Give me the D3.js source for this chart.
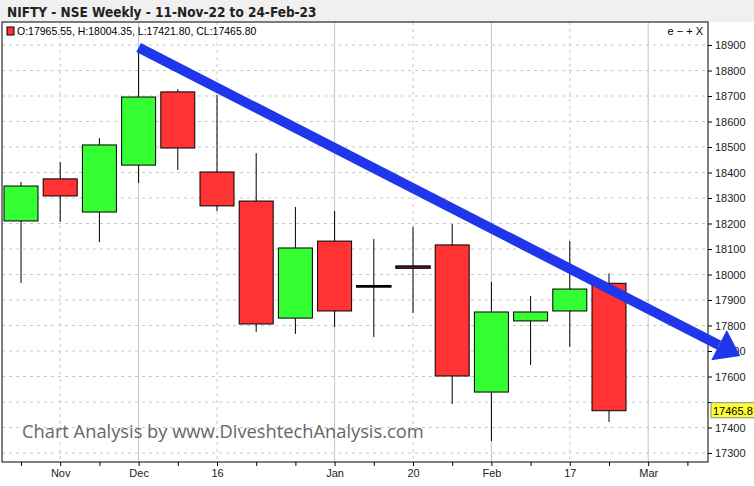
<!DOCTYPE html>
<html><head><meta charset="utf-8">
<script src="https://cdn.jsdelivr.net/npm/d3@7"></script>
<style>
body{margin:0;background:#f0f0f0;font-family:Tahoma,"DejaVu Sans",sans-serif}
</style></head><body>
<svg id="chart" width="754" height="486"></svg>
<script>
const weeks = ['11-Nov','18-Nov','25-Nov','2-Dec','9-Dec','16-Dec','23-Dec','30-Dec','6-Jan','13-Jan','20-Jan','27-Jan','3-Feb','10-Feb','17-Feb','24-Feb']
const open  = [18210,18375,18245,18429,18716,18402,18288,17829,18131,17956,18033,18116,17539,17818,17857,17965.55]
const high  = [18363,18441,18535,18870,18727,18704,18476,18265,18249,18139,18186,18198,17971,17916,18131,18004.35]
const low   = [17967,18206,18127,18359,18410,18249,17775,17767,17794,17755,17849,17492,17347,17645,17716,17421.80]
const close = [18347,18308,18508,18696,18496,18269,17806,18104,17857,17951,18025,17602,17853,17853,17943,17465.80]
const xLabels = [[1,'Nov',false],[3,'Dec',true],[5,'16',false],[8,'Jan',true],[10,'20',false],[12,'Feb',true],[14,'17',false],[16,'Mar',true]]
const yTicks = d3.range(17300, 18901, 100)
const trend = [[3,18890],[18.35,17680]]

const svg = d3.select('#chart')
const pLeft = 2, pRight = 708, pTop = 22, pBottom = 462

svg.append('text').attr('x', 7).attr('y', 17).attr('font-size', 13.5).attr('font-weight', 'bold')
  .attr('font-family', '"Liberation Sans Narrow","DejaVu Sans Condensed",sans-serif')
  .attr('fill', '#222').text('NIFTY - NSE Weekly - 11-Nov-22 to 24-Feb-23')
svg.append('rect').attr('x', 0).attr('y', pTop).attr('width', 754).attr('height', 464).attr('fill', '#fff')

const x = d3.scaleLinear().domain([0, 1]).range([21, 60.2])
const y = d3.scaleLinear().domain([17300, 18900]).range([453, 45])

// grid
svg.append('g').selectAll('line').data(yTicks).join('line')
  .attr('x1', pLeft).attr('x2', pRight).attr('y1', d => y(d)).attr('y2', d => y(d))
  .attr('stroke', '#c8c8c8').attr('stroke-dasharray', '3,4')
svg.append('g').selectAll('line').data(xLabels).join('line')
  .attr('x1', d => x(d[0])).attr('x2', d => x(d[0])).attr('y1', pTop).attr('y2', pBottom)
  .attr('stroke', d => d[2] ? '#c4c4c4' : '#c8c8c8').attr('stroke-dasharray', d => d[2] ? null : '3,4')

// y axis (17500 label sits under the last-price tag)
const yAxis = d3.axisRight(y).tickValues(yTicks).tickSize(4).tickFormat(d => d === 17500 ? '' : d3.format('d')(d))
svg.append('g').attr('transform', `translate(${pRight},0)`).call(yAxis)
  .call(g => g.select('.domain').remove())
  .call(g => g.selectAll('text').attr('font-size', 11).attr('font-family', 'Arial,sans-serif').attr('fill', '#222'))

// x axis
const xAxis = d3.axisBottom(x).tickValues(d3.range(0, 18)).tickSize(4).tickFormat(i => {
  const l = xLabels.find(d => d[0] === i); return l ? l[1] : ''
})
svg.append('g').attr('transform', `translate(0,${pBottom})`).call(xAxis)
  .call(g => g.select('.domain').remove())
  .call(g => g.selectAll('text').attr('font-size', 11).attr('font-family', 'Arial,sans-serif').attr('fill', '#222'))

// frame
svg.append('rect').attr('x', pLeft).attr('y', pTop).attr('width', pRight - pLeft).attr('height', pBottom - pTop)
  .attr('fill', 'none').attr('stroke', '#000')

// candles
const c = svg.append('g').selectAll('g').data(weeks).join('g')
c.append('line').attr('x1', (d, i) => x(i)).attr('x2', (d, i) => x(i))
  .attr('y1', (d, i) => y(high[i])).attr('y2', (d, i) => y(low[i])).attr('stroke', '#000')
c.append('rect').attr('x', (d, i) => x(i) - 17).attr('width', 34)
  .attr('y', (d, i) => y(Math.max(open[i], close[i])))
  .attr('height', (d, i) => Math.max(1, Math.abs(y(open[i]) - y(close[i]))))
  .attr('fill', (d, i) => close[i] > open[i] ? '#33ff33' : close[i] < open[i] ? '#ff3333' : '#000')
  .attr('stroke', '#000').attr('stroke-width', (d, i) => Math.abs(open[i] - close[i]) < 10 ? 1.5 : 1)

// watermark
svg.append('text').attr('x', 22).attr('y', 438).attr('font-size', 18.3)
  .attr('font-family', '"Open Sans",sans-serif').attr('fill', '#666')
  .text('Chart Analysis by www.DiveshtechAnalysis.com')

// trend arrow
const [p0, p1] = trend.map(d => [x(d[0]), y(d[1])])
const ang = Math.atan2(p1[1] - p0[1], p1[0] - p0[0])
const back = 24
const bx = p1[0] - back * Math.cos(ang), by = p1[1] - back * Math.sin(ang)
svg.append('line').attr('x1', p0[0]).attr('y1', p0[1]).attr('x2', bx).attr('y2', by)
  .attr('stroke', '#2036ea').attr('stroke-width', 10)
const nx = -Math.sin(ang), ny = Math.cos(ang)
svg.append('path').attr('fill', '#2036ea')
  .attr('d', `M${p1[0]},${p1[1]}L${bx + nx * 17},${by + ny * 17}L${bx - nx * 17},${by - ny * 17}Z`)

// last price tag
svg.append('rect').attr('x', 711).attr('y', y(17465.8) - 8).attr('width', 46).attr('height', 15)
  .attr('fill', '#ffff33').attr('stroke', '#888')
svg.append('text').attr('x', 713).attr('y', y(17465.8) + 4).attr('font-size', 11)
  .attr('font-family', 'Arial,sans-serif').text('17465.8')

// legend
svg.append('rect').attr('x', 7).attr('y', 27).attr('width', 7).attr('height', 8)
  .attr('fill', '#ff3333').attr('stroke', '#000')
svg.append('text').attr('x', 17).attr('y', 35).attr('font-size', 10.5)
  .attr('font-family', 'Arial,sans-serif').text('O:17965.55, H:18004.35, L:17421.80, CL:17465.80')
svg.append('text').attr('x', 703).attr('y', 35).attr('text-anchor', 'end').attr('font-size', 11)
  .attr('font-family', 'Arial,sans-serif').text('e − + X')
</script></body></html>
